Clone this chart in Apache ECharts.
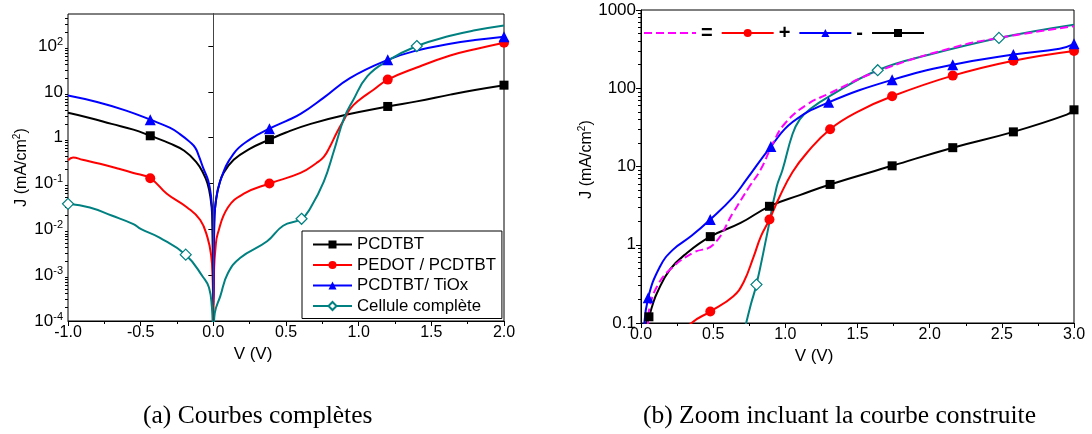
<!DOCTYPE html>
<html><head><meta charset="utf-8">
<script src="https://cdn.jsdelivr.net/npm/echarts@6/dist/echarts.min.js"></script>
<style>html,body{margin:0;padding:0;background:#fff}#c{width:1092px;height:434px}</style>
</head><body><div id="c"></div>
<script>
// ---------- Chart (a): Courbes complètes ----------
const aBlackV = [-1.0,-0.85,-0.7,-0.55,-0.3,-0.2,-0.12,-0.07,-0.04,-0.02,-0.008,0,0.008,0.02,0.04,0.07,0.14,0.25,0.5,0.67,0.92,1.4,1.63,1.8];
const aBlackJ = [3.5,2.7,2.0,1.5,0.75,0.52,0.3,0.17,0.1,0.05,0.02,2.5e-4,0.019,0.047,0.094,0.17,0.33,0.57,1.3,2.0,3.2,6.2,8.7,11];
const aBlackMV = [-0.434,0.386,1.2,2.0];
const aBlackMJ = [1.1,0.91,4.8,14];

const aRedV = [-1.0,-0.965,-0.9,-0.78,-0.65,-0.55,-0.32,-0.18,-0.09,-0.04,-0.015,-0.005,0,0.005,0.015,0.03,0.1,0.21,0.6,0.71,0.76,0.8,0.85,0.9,0.94,1.0,1.1,1.4,1.63,1.8];
const aRedJ = [0.32,0.37,0.33,0.27,0.21,0.17,0.06,0.03,0.016,0.0066,0.0027,0.0009,1.2e-4,0.0013,0.004,0.008,0.03,0.06,0.17,0.28,0.38,0.62,1.3,2.5,4.2,6.5,11,34,62,85];
const aRedMV = [-0.434,0.386,1.2,2.0];
const aRedMJ = [0.13,0.1,18.5,118];

const aBlueV = [-1.0,-0.8,-0.6,-0.3,-0.23,-0.16,-0.124,-0.1,-0.07,-0.035,-0.015,-0.005,0,0.005,0.015,0.048,0.14,0.255,0.5,0.6,0.76,0.94,1.4,1.63,1.8];
const aBlueJ = [8.3,6.0,3.9,1.65,1.2,0.8,0.6,0.4,0.22,0.115,0.05,0.017,2.2e-4,0.012,0.036,0.115,0.45,0.93,2.3,3.3,7.5,20,80,112,135];
const aBlueMV = [-0.434,0.386,1.2,2.0];
const aBlueMJ = [2.47,1.57,50,160];

const aTealV = [-0.85,-0.7,-0.55,-0.5,-0.37,-0.07,-0.03,-0.01,0,0.01,0.048,0.1,0.186,0.37,0.48,0.67,0.76,0.83,0.9,0.96,1.06,1.2,1.63,1.8,2.0];
const aTealJ = [0.03,0.02,0.013,0.0102,0.0066,9e-4,5.4e-4,2e-4,5e-5,1.5e-4,3.5e-4,0.0011,0.0024,0.0055,0.012,0.03,0.11,0.52,2.7,6.4,22,48,167,220,280];
const aTealMV = [-1.0,-0.19,0.607,1.4];
const aTealMJ = [0.036,0.0028,0.017,100];

// ---------- Chart (b): Zoom incluant la courbe construite ----------
const bBlackV = [0.02,0.035,0.08,0.11,0.2,0.32,0.69,1.1,2.95];
const bBlackJ = [0.05,0.1,0.17,0.24,0.48,0.79,1.9,4.3,46];
const bBlackMV = [0.055,0.48,0.89,1.31,1.74,2.16,2.58,3.0];
const bBlackMJ = [0.12,1.27,3.1,5.9,10.2,17.4,27.7,53];

const bRedV = [0.3,0.35,0.64,0.71,0.78,0.83,0.96,1.05,1.15,1.5];
const bRedJ = [0.07,0.1,0.22,0.33,0.7,1.27,4.1,8.5,15,50];
const bRedMV = [0.48,0.89,1.31,1.74,2.16,2.58,3.0];
const bRedMJ = [0.14,2.1,30,79,145,225,300];

const bBlueV = [0.02,0.13,0.22,0.35,0.64,0.73,1.05,2.9];
const bBlueJ = [0.08,0.52,0.86,1.3,4.1,6.8,37,320];
const bBlueMV = [0.05,0.48,0.9,1.3,1.74,2.16,2.58,3.0];
const bBlueMJ = [0.21,2.1,18,66,128,200,270,370];

const bSumV = [0.04,0.048,0.06,0.11,0.2,0.36,0.5,0.64,0.75,0.83,0.915,1.0,1.15,1.3,1.64,2.16,2.48,3.0];
const bSumJ = [0.06,0.1,0.16,0.29,0.48,0.79,1.0,2.6,5.5,9.2,20,36,62,85,165,330,440,620];

const bTealV = [0.7,0.76,0.87,0.94,0.98,1.05,1.1,1.17,1.31,2.0,3.0];
const bTealJ = [0.06,0.17,1.27,5.5,9,26,40,54,80,270,650];
const bTealMV = [0.8,1.64,2.48];
const bTealMJ = [0.31,170,440];

// tick labels
const aYTicks = [1e-4,1e-3,1e-2,1e-1,1,10,100];
const bYTicks = [0.1,1,10,100,1000];

const legendA = ['PCDTBT','PEDOT / PCDTBT','PCDTBT/ TiOx','Cellule complète'];
const legendB = ['Courbe construite','PEDOT / PCDTBT (b)','PCDTBT/ TiOx (b)','PCDTBT (b)'];
const legendBText = {'Courbe construite':'=','PEDOT / PCDTBT (b)':'+','PCDTBT/ TiOx (b)':'-','PCDTBT (b)':''};

const FONT = 'Liberation Sans, Arial, sans-serif';

function build(V, J, MV, MJ) {
  const pts = [];
  V.forEach((v, i) => pts.push({value: [v, J[i]], symbol: 'none'}));
  (MV || []).forEach((v, i) => pts.push({value: [v, MJ[i]]}));
  pts.sort((p, q) => p.value[0] - q.value[0]);
  return pts;
}
function minorVals(lo, hi) {
  const out = [];
  for (let e = Math.floor(Math.log10(lo)); e <= Math.ceil(Math.log10(hi)); e++)
    for (let k = 2; k <= 9; k++) { const v = k * Math.pow(10, e); if (v > lo * 1.0001 && v < hi) out.push(v); }
  return out;
}
const richLbl = {
  b: {fontSize: 17, fontFamily: FONT, color: '#000', lineHeight: 20},
  sup: {fontSize: 11, fontFamily: FONT, color: '#000', verticalAlign: 'top', lineHeight: 11}
};
const richName = {
  b: {fontSize: 16, fontFamily: FONT, color: '#000', lineHeight: 19},
  sup: {fontSize: 10, fontFamily: FONT, color: '#000', verticalAlign: 'top', lineHeight: 10}
};

function lineSeries(name, data, color, symbol, size, xi, extra) {
  return Object.assign({
    type: 'line', name: name, xAxisIndex: xi, yAxisIndex: xi * 2,
    data: data, symbol: symbol, symbolSize: size, showSymbol: true, showAllSymbol: true,
    smooth: 0.45, clip: true,
    lineStyle: {color: color, width: 2}, itemStyle: {color: color},
    emphasis: {disabled: true}, animation: false
  }, extra || {});
}

const xAxisCommon = (gi, min, max) => ({
  gridIndex: gi, type: 'value', min: min, max: max, interval: 0.5,
  axisLine: {onZero: false, lineStyle: {color: '#000', width: 1}},
  axisTick: {length: 5, lineStyle: {color: '#000'}},
  minorTick: {show: true, splitNumber: 2, length: 3, lineStyle: {color: '#000'}},
  splitLine: {show: false},
  axisLabel: {formatter: v => v.toFixed(1), fontSize: 16, fontFamily: FONT, color: '#000', margin: 4}
});

const option = {
  backgroundColor: '#fff',
  animation: false,
  textStyle: {fontFamily: FONT},
  grid: [
    {left: 68, top: 14, width: 436, height: 307, show: true, borderColor: '#000', borderWidth: 1},
    {left: 641, top: 10, width: 433, height: 313, show: true, borderColor: '#000', borderWidth: 1}
  ],
  xAxis: [
    Object.assign(xAxisCommon(0, -1, 2), {name: 'V (V)', nameLocation: 'middle', nameGap: 22,
      nameTextStyle: {fontSize: 17, fontFamily: FONT, color: '#000', padding: [0, 66, 0, 0]}}),
    Object.assign(xAxisCommon(1, 0, 3), {name: 'V (V)', nameLocation: 'middle', nameGap: 19,
      nameTextStyle: {fontSize: 17, fontFamily: FONT, color: '#000', padding: [0, 87, 0, 0]}})
  ],
  yAxis: [
    {gridIndex: 0, type: 'log', logBase: 10, min: 1e-4, max: 500, position: 'left',
     axisLine: {show: true, lineStyle: {color: '#000'}},
     axisTick: {length: 5, customValues: aYTicks, lineStyle: {color: '#000'}},
     axisLabel: {customValues: aYTicks, margin: 5, rich: richLbl,
       formatter: v => { const e = Math.round(Math.log10(v)); return e === 0 ? '{b|1}' : e === 1 ? '{b|10}' : '{b|10}{sup|' + e + '}'; }},
     splitLine: {show: false}, minorTick: {show: false},
     name: '{b|J (mA/cm}{sup|2}{b|)}', nameLocation: 'middle', nameRotate: 90, nameGap: 37,
     nameTextStyle: {rich: richName}},
    {gridIndex: 0, type: 'log', logBase: 10, min: 1e-4, max: 500, position: 'left', offset: 0,
     axisLine: {show: false}, axisTick: {length: 3, customValues: minorVals(1e-4, 500), lineStyle: {color: '#000'}},
     axisLabel: {show: false}, splitLine: {show: false}},
    {gridIndex: 1, type: 'log', logBase: 10, min: 0.1, max: 1000, position: 'left',
     axisLine: {show: true, lineStyle: {color: '#000'}},
     axisTick: {length: 5, customValues: bYTicks, lineStyle: {color: '#000'}},
     axisLabel: {customValues: bYTicks, margin: 5, fontSize: 17, fontFamily: FONT, color: '#000',
       formatter: v => v < 1 ? '0.1' : String(Math.round(v))},
     splitLine: {show: false}, minorTick: {show: false},
     name: '{b|J (mA/cm}{sup|2}{b|)}', nameLocation: 'middle', nameRotate: 90, nameGap: 41,
     nameTextStyle: {rich: richName, padding: [0, 0, 0, 14]}},
    {gridIndex: 1, type: 'log', logBase: 10, min: 0.1, max: 1000, position: 'left', offset: 0,
     axisLine: {show: false}, axisTick: {length: 3, customValues: minorVals(0.1, 1000), lineStyle: {color: '#000'}},
     axisLabel: {show: false}, splitLine: {show: false}}
  ],
  legend: [
    {data: legendA, orient: 'vertical', left: 302, top: 231, itemWidth: 39, itemHeight: 10, itemGap: 3.5,
     padding: [5, 6, 4, 10], borderColor: '#000', borderWidth: 1, backgroundColor: '#fff',
     textStyle: {fontSize: 16.8, fontFamily: FONT, color: '#000'}, selectedMode: false},
    {data: [{name: legendB[0], itemStyle: {opacity: 0}}, legendB[1], legendB[2], legendB[3]],
     orient: 'horizontal', left: 643, top: 23, itemWidth: 52, itemHeight: 10, itemGap: 8,
     padding: 0, formatter: n => legendBText[n],
     textStyle: {fontSize: 20, fontWeight: 'bold', fontFamily: FONT, color: '#000'}, selectedMode: false}
  ],
  series: [
    lineSeries('PCDTBT', build(aBlackV, aBlackJ, aBlackMV, aBlackMJ), '#000000', 'rect', 9, 0, {
      markLine: {silent: true, symbol: 'none', label: {show: false}, animation: false,
        lineStyle: {color: '#444', width: 1, type: 'solid'}, data: [{xAxis: 0}]}}),
    lineSeries('PEDOT / PCDTBT', build(aRedV, aRedJ, aRedMV, aRedMJ), '#ff0000', 'circle', 10, 0),
    lineSeries('PCDTBT/ TiOx', build(aBlueV, aBlueJ, aBlueMV, aBlueMJ), '#0000ff', 'triangle', 11, 0),
    lineSeries('Cellule complète', build(aTealV, aTealJ, aTealMV, aTealMJ), '#008080', 'diamond', 11, 0,
      {itemStyle: {color: '#ffffff', borderColor: '#008080', borderWidth: 1.2}}),

    lineSeries('Cellule complète (b)', build(bTealV, bTealJ, bTealMV, bTealMJ), '#008080', 'diamond', 11, 1,
      {itemStyle: {color: '#ffffff', borderColor: '#008080', borderWidth: 1.2}}),
    lineSeries('PCDTBT (b)', build(bBlackV, bBlackJ, bBlackMV, bBlackMJ), '#000000', 'rect', 9, 1),
    lineSeries('PEDOT / PCDTBT (b)', build(bRedV, bRedJ, bRedMV, bRedMJ), '#ff0000', 'circle', 10, 1),
    lineSeries('PCDTBT/ TiOx (b)', build(bBlueV, bBlueJ, bBlueMV, bBlueMJ), '#0000ff', 'triangle', 11, 1),
    lineSeries('Courbe construite', build(bSumV, bSumJ), '#ff00ff', 'none', 0, 1,
      {lineStyle: {color: '#ff00ff', width: 2, type: [8, 4]}})
  ],
  graphic: [
    {type: 'text', left: 143, top: 403, style: {text: '(a) Courbes complètes', font: '25.5px "Liberation Serif", serif', fill: '#000'}},
    {type: 'text', left: 643, top: 403, style: {text: '(b) Zoom incluant la courbe construite', font: '25.5px "Liberation Serif", serif', fill: '#000'}}
  ]
};
const chart = echarts.init(document.getElementById('c'));
chart.setOption(option);
</script></body></html>
